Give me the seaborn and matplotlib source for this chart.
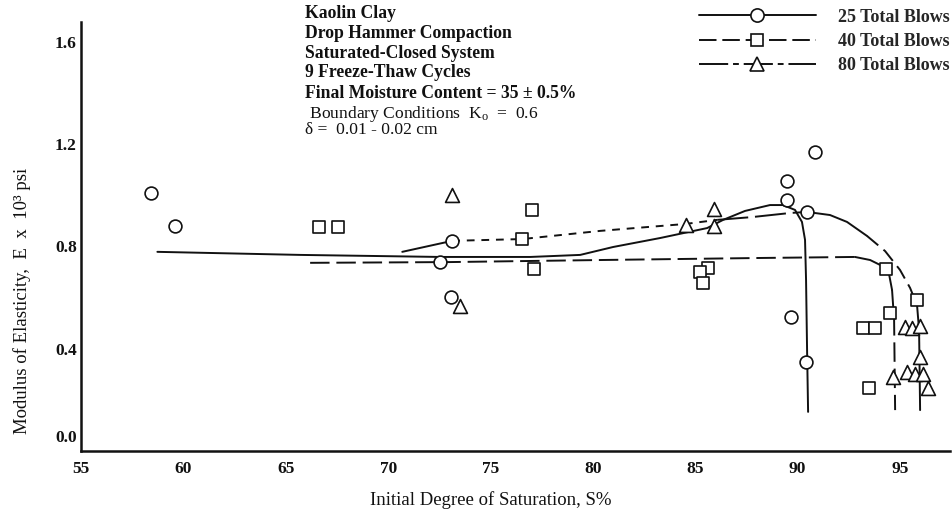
import matplotlib
matplotlib.use("Agg")
import matplotlib.pyplot as plt
from matplotlib.lines import Line2D
import seaborn as sns
import pandas as pd

# ---- measured specimens -------------------------------------------------
blows25_x = [58.44, 59.61, 73.13, 72.54, 73.08, 90.85, 89.48, 89.48, 90.46, 89.68, 90.41]
blows25_y = [1.009, 0.880, 0.822, 0.739, 0.603, 1.170, 1.056, 0.982, 0.935, 0.524, 0.348]

blows40_x = [66.60, 67.57, 77.04, 76.55, 77.13, 85.63, 85.24, 85.38, 94.31, 95.83,
             94.51, 93.19, 93.77, 93.48]
blows40_y = [0.876, 0.876, 0.943, 0.829, 0.712, 0.716, 0.700, 0.657, 0.712, 0.591,
             0.540, 0.481, 0.481, 0.246]

blows80_x = [73.13, 73.52, 84.56, 85.92, 85.92, 95.24, 95.58, 95.97, 95.97, 95.34,
             95.73, 96.12, 96.37, 94.66]
blows80_y = [1.002, 0.567, 0.884, 0.947, 0.880, 0.485, 0.481, 0.489, 0.368, 0.309,
             0.301, 0.301, 0.246, 0.290]

# ---- hand-fitted trend curves -------------------------------------------
curve25_x = [58.73, 65.71, 72.54, 76.94, 79.38, 80.99, 83.28, 85.58, 86.36, 87.43,
             88.65, 89.28, 89.87, 90.21, 90.36, 90.41, 90.46, 90.51]
curve25_y = [0.779, 0.767, 0.759, 0.759, 0.767, 0.798, 0.833, 0.872, 0.904, 0.939,
             0.962, 0.962, 0.943, 0.896, 0.826, 0.669, 0.395, 0.153]

curve40_x = [66.19, 73.03, 80.36, 88.17, 92.80, 93.54, 94.12, 94.47, 94.61, 94.71, 94.76]
curve40_y = [0.736, 0.739, 0.747, 0.755, 0.759, 0.747, 0.724, 0.689, 0.630, 0.513, 0.160]

curve80_x = [70.69, 73.13, 76.55, 80.36, 84.51, 86.07, 87.78, 89.64, 90.46, 91.58,
             92.41, 93.39, 94.27, 95.00, 95.49, 95.83, 95.93, 95.98]
curve80_y = [0.779, 0.822, 0.829, 0.861, 0.888, 0.904, 0.915, 0.931, 0.935, 0.923,
             0.896, 0.841, 0.782, 0.708, 0.638, 0.571, 0.473, 0.160]

x_ticks = [55, 60, 65, 70, 75, 80, 85, 90, 95]
y_ticks = [0.0, 0.4, 0.8, 1.2, 1.6]
y_tick_labels = ["0.0", "0.4", "0.8", "1.2", "1.6"]

series_labels = ["25 Total Blows", "40 Total Blows", "80 Total Blows"]
notes_bold = [
    "Kaolin Clay",
    "Drop Hammer Compaction",
    "Saturated-Closed System",
    "9 Freeze-Thaw Cycles",
    "Final Moisture Content = 35 \u00b1 0.5%",
]
notes_plain = [
    " Boundary Conditions  K$_\\mathregular{o}$  =  0.6",
    "\u03b4 =  0.01 - 0.02 cm",
]

# ---- styling ---------------------------------------------------------------
sns.set_style("white")
plt.rcParams["font.family"] = ["Liberation Serif", "DejaVu Serif"]
plt.rcParams["mathtext.default"] = "regular"

INK = "#111111"
LW = 1.4

fig = plt.figure(figsize=(9.52, 5.13), dpi=100)
ax = fig.add_axes([81 / 952, 62 / 513, 869 / 952, 429 / 513])


def draw_curve(xs, ys, i0, i1, style):
    df = pd.DataFrame({"x": xs[i0:i1 + 1], "y": ys[i0:i1 + 1]})
    sns.lineplot(data=df, x="x", y="y", sort=False, estimator=None, ax=ax,
                 color=INK, lw=LW, linestyle=style, zorder=2)


SOLID = "-"
LONG = (0, (10, 3.5))
SHORT = (0, (4, 3.5))
XLONG = (0, (16, 3.5))
MID = (0, (7.5, 3.5))

# 25 blows: one continuous solid curve
draw_curve(curve25_x, curve25_y, 0, len(curve25_x) - 1, SOLID)

# 40 blows: long dashes along the plateau, solid where it bends down
draw_curve(curve40_x, curve40_y, 0, 4, LONG)
draw_curve(curve40_x, curve40_y, 4, 8, SOLID)
draw_curve(curve40_x, curve40_y, 8, 10, LONG)

# 80 blows: mixed pen strokes along the upper envelope
draw_curve(curve80_x, curve80_y, 0, 1, SOLID)
draw_curve(curve80_x, curve80_y, 1, 5, SHORT)
draw_curve(curve80_x, curve80_y, 5, 8, XLONG)
draw_curve(curve80_x, curve80_y, 8, 11, SOLID)
draw_curve(curve80_x, curve80_y, 11, 15, MID)
draw_curve(curve80_x, curve80_y, 15, 17, SOLID)

# specimen markers (hollow)
for xs, ys, mk, size in [(blows25_x, blows25_y, "o", 85),
                         (blows40_x, blows40_y, "s", 75),
                         (blows80_x, blows80_y, "^", 100)]:
    sns.scatterplot(x=xs, y=ys, marker=mk, s=size, ax=ax, color=INK,
                    facecolor="white", edgecolor=INK, linewidth=1.2, zorder=3)

# ---- axes ----------------------------------------------------------------
TICK_FS = 12.5
ax.set_xlim(55, 97.44)
ax.set_ylim(0, 1.678)
ax.set_xticks(x_ticks)
ax.set_xticklabels([str(t) for t in x_ticks], fontweight="bold")
ax.set_yticks(y_ticks)
ax.set_yticklabels([""] + y_tick_labels[1:], fontweight="bold")
ax.annotate(y_tick_labels[0], xy=(0, 0), xycoords=("axes fraction", "data"),
            xytext=(-3, 9.5), textcoords="offset points", ha="right", va="center",
            fontsize=TICK_FS, fontweight="bold", color=INK)

sns.despine(ax=ax)
for side in ("left", "bottom"):
    ax.spines[side].set_linewidth(1.8)
    ax.spines[side].set_color(INK)

ax.tick_params(axis="both", direction="in", length=4, width=1.6, colors=INK,
               labelsize=TICK_FS)
ax.tick_params(axis="x", pad=7)
ax.tick_params(axis="y", pad=3)

ax.set_xlabel("Initial Degree of Saturation, S%", fontsize=13.5, color=INK)
ax.set_ylabel("Modulus of Elasticity,  E  x  10\u00b3 psi", fontsize=13.5, color=INK)
ax.xaxis.set_label_coords(0.471, -0.093)
ax.yaxis.set_label_coords(-0.058, 0.35)

# ---- legend --------------------------------------------------------------
handles = [
    Line2D([], [], color=INK, lw=LW, linestyle=SOLID, marker="o", markersize=9.5,
           markerfacecolor="white", markeredgecolor=INK, markeredgewidth=1.2),
    Line2D([], [], color=INK, lw=LW, linestyle=(0, (9, 3)), marker="s", markersize=9,
           markerfacecolor="white", markeredgecolor=INK, markeredgewidth=1.2),
    Line2D([], [], color=INK, lw=LW, linestyle=(0, (15, 2.5, 3, 2.5)), marker="^",
           markersize=10, markerfacecolor="white", markeredgecolor=INK,
           markeredgewidth=1.2),
]
ax.legend(handles=handles, labels=series_labels, loc="upper right",
          bbox_to_anchor=(1.0, 1 - 6 / 513), bbox_transform=fig.transFigure,
          frameon=False, prop={"size": 13, "weight": "bold"},
          handlelength=6.5, handletextpad=1.2, labelspacing=0.4,
          borderaxespad=0, borderpad=0.15, numpoints=1)

# ---- test-condition notes ------------------------------------------------
for txt, base in zip(notes_bold, [18, 38, 58, 77, 98]):
    fig.text(305 / 952, 1 - base / 513, txt, ha="left", va="baseline",
             fontsize=12.7, fontweight="bold", color=INK)
# boundary conditions set as one two-line block
fig.text(305 / 952, 1 - 104 / 513, "\n".join(notes_plain), ha="left", va="top",
         fontsize=12.6, linespacing=0.82, color=INK)

fig.savefig("out.png", dpi=100)
